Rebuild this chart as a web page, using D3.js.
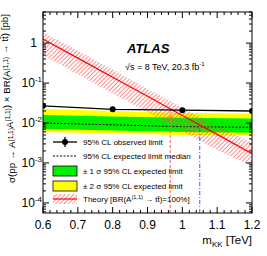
<!DOCTYPE html>
<html>
<head>
<meta charset="utf-8">
<script src="https://cdn.jsdelivr.net/npm/d3@7"></script>
<style>
body { margin: 0; background: #fff; }
svg text { font-family: "Liberation Sans", Arial, sans-serif; }
</style>
</head>
<body>
<div id="chart"></div>
<script>
// limit points (mass in TeV, cross section in pb)
var masses = [0.6, 0.8, 1.0, 1.2];
var observed = [0.027, 0.022, 0.021, 0.020];
var expected = [0.0100, 0.0090, 0.0081, 0.0078];
var sig1Lo = [0.0071, 0.0065, 0.0060, 0.0057];
var sig1Hi = [0.0158, 0.0146, 0.0135, 0.0130];
var sig2Lo = [0.0060, 0.0055, 0.0050, 0.0048];
var sig2Hi = [0.0224, 0.0200, 0.0178, 0.0172];

// theory prediction
var thMass = [0.6, 0.7, 0.8, 0.9, 1.0, 1.1, 1.2];
var theory = [1.26, 0.42, 0.14, 0.047, 0.0155, 0.0052, 0.0017];
var thLo = [0.50, 0.166, 0.055, 0.0185, 0.0062, 0.0021, 0.00083];
var thHi = [1.88, 0.64, 0.215, 0.072, 0.0245, 0.0083, 0.0032];

var obsLimit = 0.965;
var expLimit = 1.05;

var xTicks = [0.6, 0.7, 0.8, 0.9, 1.0, 1.1, 1.2];
var yTicks = [1, 1e-1, 1e-2, 1e-3, 1e-4];
var yTickExp = ['', '-1', '-2', '-3', '-4'];

var legendLabels = [
    '95% CL observed limit',
    '95% CL expected limit median',
    '\u00b1 1 \u03c3 95% CL expected limit',
    '\u00b1 2 \u03c3 95% CL expected limit'
];

var W = 267, H = 256;
var margin = { left: 43, right: 15, top: 12, bottom: 43 };
var iw = W - margin.left - margin.right;
var ih = H - margin.top - margin.bottom;

var svg = d3.select('#chart').append('svg')
    .attr('width', W)
    .attr('height', H);

var defs = svg.append('defs');
var pat = defs.append('pattern')
    .attr('id', 'hatch')
    .attr('patternUnits', 'userSpaceOnUse')
    .attr('width', 3)
    .attr('height', 3)
    .attr('patternTransform', 'rotate(45)');
pat.append('line')
    .attr('x1', 0).attr('y1', 0).attr('x2', 0).attr('y2', 3)
    .attr('stroke', '#ff5050')
    .attr('stroke-width', 1.3);

defs.append('clipPath').attr('id', 'clip')
    .append('rect').attr('width', iw).attr('height', ih);

var x = d3.scaleLinear().domain([0.6, 1.2]).range([0, iw]);
var y = d3.scaleLog().domain([5.6e-5, 6]).range([ih, 0]);

var g = svg.append('g')
    .attr('transform', `translate(${margin.left},${margin.top})`);

var plot = g.append('g').attr('clip-path', 'url(#clip)');

var band = (lo, hi) => d3.area()
    .x((d, i) => x(masses[i]))
    .y0((d, i) => y(lo[i]))
    .y1((d, i) => y(hi[i]));

plot.append('path').datum(masses)
    .attr('d', band(sig2Lo, sig2Hi))
    .attr('fill', '#ffff00');
plot.append('path').datum(masses)
    .attr('d', band(sig1Lo, sig1Hi))
    .attr('fill', '#00ee00');

plot.append('path').datum(masses)
    .attr('d', d3.line().x((d, i) => x(masses[i])).y((d, i) => y(expected[i])))
    .attr('fill', 'none')
    .attr('stroke', '#000')
    .attr('stroke-width', 1)
    .attr('stroke-dasharray', '2,1.5');

// theory band
plot.append('path').datum(thMass)
    .attr('d', d3.area()
        .x((d, i) => x(thMass[i]))
        .y0((d, i) => y(thLo[i]))
        .y1((d, i) => y(thHi[i])))
    .attr('fill', 'url(#hatch)');
plot.append('path').datum(thMass)
    .attr('d', d3.line().x((d, i) => x(thMass[i])).y((d, i) => y(theory[i])))
    .attr('fill', 'none')
    .attr('stroke', '#ff0000')
    .attr('stroke-width', 1.2);

// interpolate theory at the limit masses for the vertical markers
var thAt = m => {
    var lx = d3.scaleLinear().domain(thMass).range(theory.map(Math.log));
    return Math.exp(lx(m));
};

plot.append('line')
    .attr('x1', x(obsLimit)).attr('x2', x(obsLimit))
    .attr('y1', ih).attr('y2', y(thAt(obsLimit)))
    .attr('stroke', '#ff6060')
    .attr('stroke-width', 1)
    .attr('stroke-dasharray', '3,2');
plot.append('line')
    .attr('x1', x(expLimit)).attr('x2', x(expLimit))
    .attr('y1', ih).attr('y2', y(thAt(expLimit)))
    .attr('stroke', '#5050ff')
    .attr('stroke-width', 1)
    .attr('stroke-dasharray', '4,2,1,2');

// observed
plot.append('path').datum(masses)
    .attr('d', d3.line().x((d, i) => x(masses[i])).y((d, i) => y(observed[i])))
    .attr('fill', 'none')
    .attr('stroke', '#000')
    .attr('stroke-width', 1.3);
plot.selectAll('circle.obs').data(masses).enter()
    .append('circle')
    .attr('cx', d => x(d))
    .attr('cy', (d, i) => y(observed[i]))
    .attr('r', 3)
    .attr('fill', '#000');

// frame
g.append('rect')
    .attr('width', iw).attr('height', ih)
    .attr('fill', 'none')
    .attr('stroke', '#000')
    .attr('stroke-width', 1);

// ticks inside, all four sides
var xMinor = d3.range(30, 61, 1).map(v => v / 50);
xMinor.forEach(v => {
    var major = xTicks.some(t => Math.abs(t - v) < 1e-6);
    var len = major ? 6 : 3;
    g.append('line').attr('x1', x(v)).attr('x2', x(v))
        .attr('y1', ih).attr('y2', ih - len).attr('stroke', '#000');
    g.append('line').attr('x1', x(v)).attr('x2', x(v))
        .attr('y1', 0).attr('y2', len).attr('stroke', '#000');
});

var yAll = [];
[-5, -4, -3, -2, -1, 0].forEach(e => {
    d3.range(1, 10).forEach(k => {
        var v = k * Math.pow(10, e);
        if (v >= 5.6e-5 && v <= 6) yAll.push({ v: v, major: k === 1 });
    });
});
yAll.forEach(t => {
    var len = t.major ? 6 : 3;
    g.append('line').attr('x1', 0).attr('x2', len)
        .attr('y1', y(t.v)).attr('y2', y(t.v)).attr('stroke', '#000');
    g.append('line').attr('x1', iw).attr('x2', iw - len)
        .attr('y1', y(t.v)).attr('y2', y(t.v)).attr('stroke', '#000');
});

// tick labels
g.selectAll('text.xl').data(xTicks).enter()
    .append('text')
    .attr('x', d => x(d))
    .attr('y', ih + 16)
    .attr('text-anchor', 'middle')
    .attr('font-size', 12)
    .text(d => d === 1 ? '1' : d3.format('.1f')(d));

yTicks.forEach((v, i) => {
    var t = g.append('text')
        .attr('y', y(v) + 4)
        .attr('font-size', 12)
        .attr('text-anchor', 'end');
    if (yTickExp[i] === '') {
        t.attr('x', -6).text('1');
    } else {
        t.attr('x', -1);
        t.append('tspan').text('10');
        t.append('tspan').attr('dy', -5).attr('font-size', 8).text(yTickExp[i]);
    }
});

// axis titles
var xt = svg.append('text')
    .attr('x', margin.left + iw)
    .attr('y', 244)
    .attr('text-anchor', 'end')
    .attr('font-size', 11.5);
xt.append('tspan').text('m');
xt.append('tspan').attr('dy', 3).attr('font-size', 8).text('KK');
xt.append('tspan').attr('dy', -3).text(' [TeV]');

var yt = svg.append('text')
    .attr('transform', `translate(15,${margin.top + 2}) rotate(-90)`)
    .attr('text-anchor', 'end')
    .attr('font-size', 9.8);
var sup = (txt) => {
    yt.append('tspan').attr('dy', -2.5).attr('font-size', 6.5).text(txt);
    yt.append('tspan').attr('dy', 2.5).text('');
};
yt.append('tspan').text('\u03c3(pp \u2192 A');
sup('(1,1)');
yt.append('tspan').text('A');
sup('(1,1)');
yt.append('tspan').text(') \u00d7 BR(A');
sup('(1,1)');
yt.append('tspan').text(' \u2192 tt\u0304) [pb]');

// ATLAS label
svg.append('text')
    .attr('x', 127).attr('y', 53)
    .attr('font-size', 13)
    .attr('font-weight', 'bold')
    .attr('font-style', 'italic')
    .text('ATLAS');
var en = svg.append('text')
    .attr('x', 125).attr('y', 70)
    .attr('font-size', 9);
en.append('tspan').text('\u221as = 8 TeV, 20.3 fb');
en.append('tspan').attr('dy', -4).attr('font-size', 6).text('-1');

// legend
var lg = svg.append('g');
var lx0 = 53, lx1 = 77, ltx = 83;
var rows = [142, 156, 171, 186, 199];

lg.append('line').attr('x1', lx0).attr('x2', lx1)
    .attr('y1', rows[0]).attr('y2', rows[0])
    .attr('stroke', '#000').attr('stroke-width', 1.3);
lg.append('line').attr('x1', 65).attr('x2', 65)
    .attr('y1', rows[0] - 5).attr('y2', rows[0] + 5)
    .attr('stroke', '#000').attr('stroke-width', 1.3);
lg.append('circle').attr('cx', 65).attr('cy', rows[0]).attr('r', 3).attr('fill', '#000');

lg.append('line').attr('x1', lx0).attr('x2', lx1)
    .attr('y1', rows[1]).attr('y2', rows[1])
    .attr('stroke', '#000').attr('stroke-dasharray', '2,1.5');

lg.append('rect').attr('x', lx0).attr('y', rows[2] - 5)
    .attr('width', lx1 - lx0).attr('height', 10)
    .attr('fill', '#00ee00').attr('stroke', '#000').attr('stroke-width', 0.8);
lg.append('rect').attr('x', lx0).attr('y', rows[3] - 5)
    .attr('width', lx1 - lx0).attr('height', 10)
    .attr('fill', '#ffff00').attr('stroke', '#000').attr('stroke-width', 0.8);

lg.append('rect').attr('x', lx0).attr('y', rows[4] - 5)
    .attr('width', lx1 - lx0).attr('height', 10)
    .attr('fill', 'url(#hatch)');
lg.append('line').attr('x1', lx0).attr('x2', lx1)
    .attr('y1', rows[4]).attr('y2', rows[4])
    .attr('stroke', '#ff0000').attr('stroke-width', 1.2);

legendLabels.forEach((d, i) => {
    lg.append('text')
        .attr('x', ltx).attr('y', rows[i] + 3)
        .attr('font-size', 8)
        .text(d);
});
var th = lg.append('text')
    .attr('x', ltx).attr('y', rows[4] + 3)
    .attr('font-size', 8);
th.append('tspan').text('Theory [BR(A');
th.append('tspan').attr('dy', -3).attr('font-size', 5.5).text('(1,1)');
th.append('tspan').attr('dy', 3).text(' \u2192 tt\u0304)=100%]');
</script>
</body>
</html>
